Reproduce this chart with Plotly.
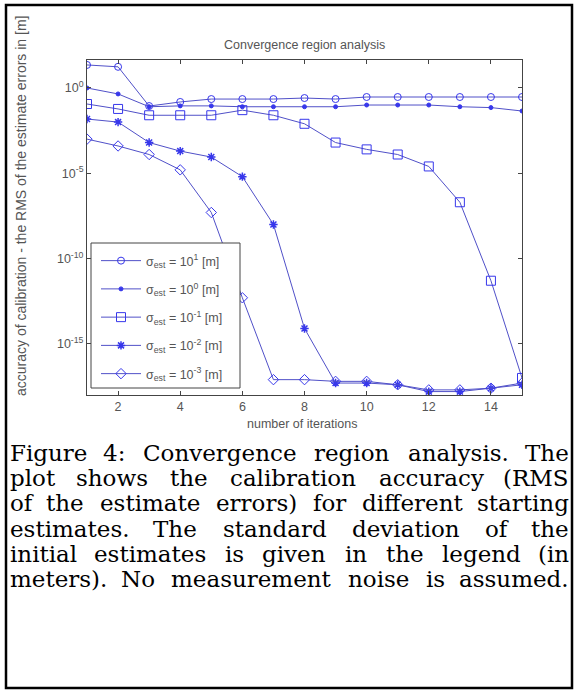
import numpy as np
import plotly.graph_objects as go

# ---------------- data ----------------
iterations = list(range(1, 16))

# log10 of the RMS of the estimate errors [m]
log_rms_sigma_1e1 = [1.35, 1.24, -1.06, -0.82, -0.65, -0.65, -0.65, -0.59, -0.65, -0.53, -0.53, -0.53, -0.53, -0.53, -0.53]
log_rms_sigma_1e0 = [0.0, -0.35, -1.10, -1.05, -1.05, -1.10, -1.10, -1.10, -1.10, -1.00, -1.00, -1.00, -1.10, -1.15, -1.35]
log_rms_sigma_1em1 = [-0.94, -1.23, -1.60, -1.60, -1.60, -1.30, -1.60, -2.10, -3.20, -3.60, -3.90, -4.60, -6.70, -11.3, -17.0]
log_rms_sigma_1em2 = [-1.82, -2.00, -3.20, -3.70, -4.05, -5.20, -8.00, -14.1, -17.3, -17.3, -17.4, -17.8, -17.8, -17.6, -17.4]
log_rms_sigma_1em3 = [-3.00, -3.40, -3.90, -4.80, -7.30, -12.3, -17.1, -17.1, -17.2, -17.2, -17.4, -17.7, -17.7, -17.6, -17.3]

series_labels = [
    "σ<sub>est</sub> = 10<sup>1</sup> [m]",
    "σ<sub>est</sub> = 10<sup>0</sup> [m]",
    "σ<sub>est</sub> = 10<sup>-1</sup> [m]",
    "σ<sub>est</sub> = 10<sup>-2</sup> [m]",
    "σ<sub>est</sub> = 10<sup>-3</sup> [m]",
]
x_tick_vals = [2, 4, 6, 8, 10, 12, 14]
y_tick_vals = [1e0, 1e-5, 1e-10, 1e-15]
y_tick_text = ["10<sup>0</sup>", "10<sup>-5</sup>", "10<sup>-10</sup>", "10<sup>-15</sup>"]

chart_title = "Convergence region analysis"
x_title = "number of iterations"
y_title = "accuracy of calibration - the RMS of the estimate errors in [m]"

caption_lines = [
    "Figure 4: Convergence region analysis. The",
    "plot shows the calibration accuracy (RMS",
    "of the estimate errors) for different starting",
    "estimates. The standard deviation of the",
    "initial estimates is given in the legend (in",
    "meters). No measurement noise is assumed.",
]

# ---------------- layout helpers ----------------
W, H = 578, 692
PL, PR, PT, PB = 87, 522, 60, 395  # plot area in pixels


def px2x(px):
    return (px - PL) / (PR - PL)


def py2y(py):
    return (PB - py) / (PB - PT)


series = [log_rms_sigma_1e1, log_rms_sigma_1e0, log_rms_sigma_1em1, log_rms_sigma_1em2, log_rms_sigma_1em3]
symbols = ["circle-open", "circle", "square-open", "asterisk-open", "diamond-open"]
sizes = [7, 4, 9, 7, 8]
line_col = "rgb(80,80,200)"
mark_col = "rgb(55,55,235)"

fig = go.Figure()
for i, (vals, lab) in enumerate(zip(series, series_labels)):
    fig.add_trace(go.Scatter(
        x=iterations, y=np.power(10.0, vals), mode="lines+markers", name=lab,
        legendgroup=f"g{i}",
        line=dict(color=line_col, width=1),
        marker=dict(symbol=symbols[i], size=sizes[i], color=mark_col,
                    line=dict(color=mark_col, width=1.5 if i == 3 else 1)),
    ))

axis_font = dict(family="Liberation Sans, Arial", size=12.5, color="#555")

fig.update_layout(
    width=W, height=H,
    margin=dict(l=PL, r=W - PR, t=PT, b=H - PB, pad=0),
    paper_bgcolor="white", plot_bgcolor="white",
    showlegend=True,
    legend=dict(x=px2x(96), y=py2y(246), xanchor="left", yanchor="top",
                bgcolor="rgba(0,0,0,0)", borderwidth=0, itemwidth=40,
                font=dict(family="Liberation Sans, Arial", size=12.5, color="#555"),
                tracegroupgap=9),
    xaxis=dict(range=[1, 15], tickvals=x_tick_vals, ticks="inside", ticklen=4,
               showline=True, linecolor="#444", linewidth=1, mirror="ticks",
               showgrid=False, zeroline=False, tickfont=axis_font),
    yaxis=dict(type="log", range=[-18, 1.64], tickvals=y_tick_vals, ticktext=y_tick_text,
               ticks="inside", ticklen=4, showline=True, linecolor="#444", linewidth=1,
               mirror="ticks", showgrid=False, zeroline=False, tickfont=axis_font),
)

# legend box
fig.add_shape(type="rect", xref="paper", yref="paper",
              x0=px2x(91), x1=px2x(240), y0=py2y(388), y1=py2y(243),
              line=dict(color="#444", width=1), fillcolor="white", layer="above")

# outer frame
fig.add_shape(type="rect", xref="paper", yref="paper",
              x0=px2x(6), x1=px2x(572), y0=py2y(688), y1=py2y(5),
              line=dict(color="black", width=2.5), fillcolor="rgba(0,0,0,0)", layer="above")

# titles
fig.add_annotation(text=chart_title, xref="paper", yref="paper", x=px2x(304), y=py2y(45),
                   xanchor="center", yanchor="middle", showarrow=False, font=axis_font)
fig.add_annotation(text=x_title, xref="paper", yref="paper", x=px2x(302), y=py2y(424),
                   xanchor="center", yanchor="middle", showarrow=False, font=axis_font)
fig.add_annotation(text=y_title, xref="paper", yref="paper", x=px2x(21), y=py2y(206),
                   xanchor="center", yanchor="middle", textangle=-90, showarrow=False,
                   font=dict(family="Liberation Sans, Arial", size=14, color="#555"))

# caption, justified word by word
CAP_FS = 23
cw = {
    'a': .596, 'b': .640, 'c': .560, 'd': .640, 'e': .592, 'f': .370, 'g': .640, 'h': .644, 'i': .320,
    'j': .310, 'k': .598, 'l': .320, 'm': .948, 'n': .644, 'o': .602, 'p': .640, 'q': .640, 'r': .478,
    's': .513, 't': .402, 'u': .644, 'v': .565, 'w': .856, 'x': .564, 'y': .565, 'z': .523,
    'F': .683, 'R': .770, 'M': .995, 'S': .650, 'T': .689, 'N': .811, 'C': .734,
    '.': .318, ':': .337, '(': .390, ')': .390, '4': .636,
}


def word_w(w):
    return sum(cw.get(c, .6) for c in w) * CAP_FS


cap_font = dict(family="DejaVu Serif", size=CAP_FS, color="black")
cap_y = [453, 478, 503, 529, 554, 579]
X0, X1 = 8, 571
for line, yy in zip(caption_lines, cap_y):
    words = line.split(" ")
    ws = [word_w(w) for w in words]
    gap = (X1 - X0 - sum(ws)) / (len(words) - 1)
    cur = X0
    for k, (w, ww) in enumerate(zip(words, ws)):
        if k == 0:
            xpos, anc = cur, "left"
        elif k == len(words) - 1:
            xpos, anc = X1, "right"
        else:
            xpos, anc = cur + ww / 2, "center"
        fig.add_annotation(text=w, xref="paper", yref="paper", x=px2x(xpos), y=py2y(yy),
                           xanchor=anc, yanchor="middle", showarrow=False, font=cap_font)
        cur += ww + gap

fig.write_html("out.html", config={"displayModeBar": False},
               post_script="document.body.style.margin='0';")
